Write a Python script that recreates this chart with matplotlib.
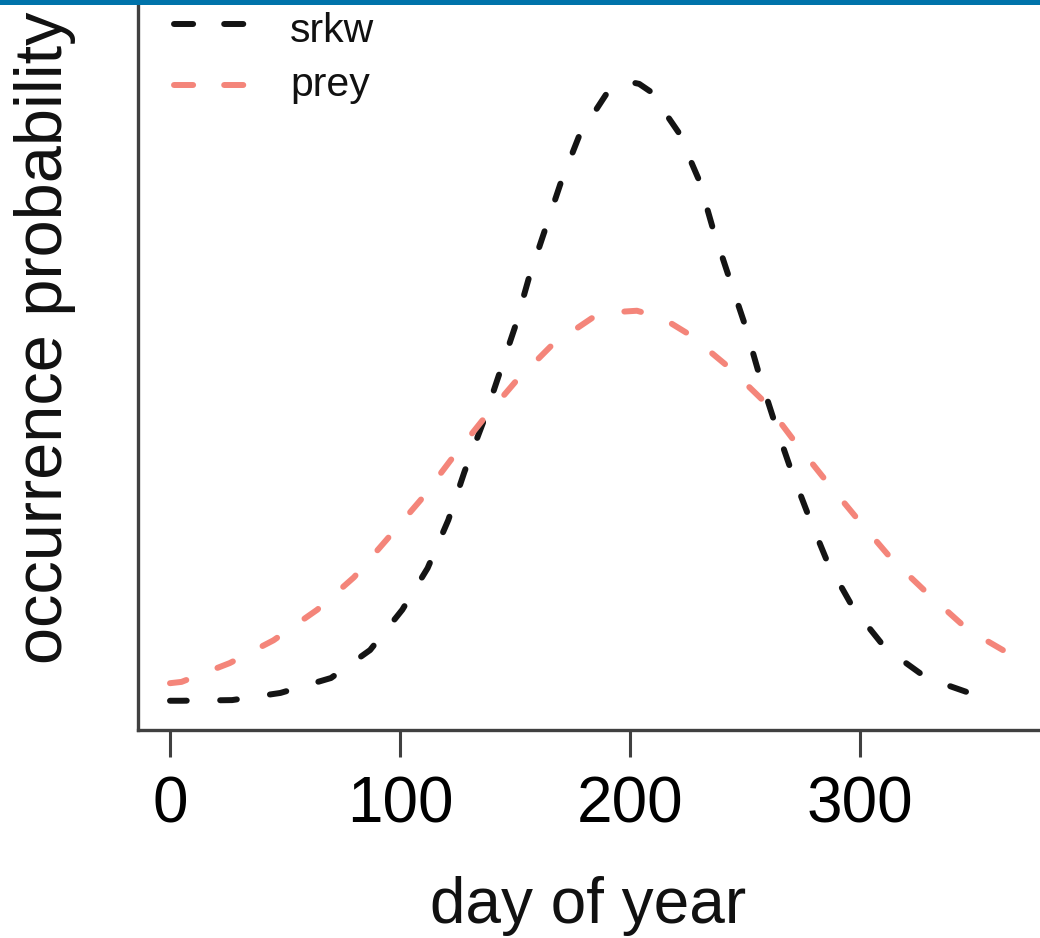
import matplotlib

matplotlib.use("Agg")
import matplotlib.pyplot as plt
from matplotlib.patches import Rectangle

plt.rcParams["font.family"] = ["Liberation Sans", "DejaVu Sans"]

# values; the original has no y ticks, so the
# probability scale is relative (peak of srkw ~ 1)
SRKW_DAY = [0, 5, 27, 48, 70, 87, 101, 112, 121, 128, 136, 143, 150, 156,
            163, 170, 178, 190, 195, 200, 204, 209, 221, 230, 236, 243, 250,
            256, 263, 270, 278, 286, 297, 311, 329, 350, 355]
SRKW_P = [0.045, 0.045, 0.046, 0.057, 0.080, 0.123, 0.185, 0.249, 0.323,
          0.397, 0.472, 0.546, 0.620, 0.695, 0.769, 0.843, 0.915, 0.980,
          0.992, 0.997, 0.994, 0.982, 0.920, 0.846, 0.772, 0.697, 0.623,
          0.549, 0.472, 0.400, 0.326, 0.257, 0.188, 0.126, 0.080, 0.054,
          0.051]
PREY_DAY = [0, 5, 26, 45, 64, 80, 94, 109, 122, 136, 150, 166, 184, 194,
            203, 214, 226, 243, 259, 272, 286, 300, 314, 330, 347, 366]
PREY_P = [0.072, 0.074, 0.103, 0.138, 0.185, 0.235, 0.292, 0.354, 0.415,
          0.477, 0.535, 0.592, 0.635, 0.643, 0.645, 0.634, 0.608, 0.558,
          0.503, 0.442, 0.380, 0.320, 0.262, 0.208, 0.154, 0.115]
SERIES = ["srkw", "prey"]
XTICKS = [0, 100, 200, 300]

COLORS = {"srkw": "#141414", "prey": "#f4857a"}
LW = 4.3
DASH = (2.8, 5.6)
FS = 46
AXIS = "#404040"

fig = plt.figure(figsize=(10.4, 9.38), dpi=100)
ax = fig.add_axes([138 / 1040, 208 / 938, 902 / 1040, 730 / 938])

data = {"srkw": (SRKW_DAY, SRKW_P), "prey": (PREY_DAY, PREY_P)}
for name in SERIES:
    days, p = data[name]
    ax.plot(days, p, color=COLORS[name], lw=LW, ls=(0, DASH),
            dash_capstyle="round")

ax.set_xlim(-32 / 2.3, 870 / 2.3)
ax.set_ylim(0, 730 / 650)
ax.set_xticks(XTICKS)
ax.set_xticklabels([str(t) for t in XTICKS], fontsize=FS)
ax.set_yticks([])
ax.tick_params(axis="x", direction="out", length=19.5, width=2.2,
               color=AXIS, pad=13)
for side in ("top", "right"):
    ax.spines[side].set_visible(False)
for side in ("left", "bottom"):
    ax.spines[side].set_linewidth(2.4)
    ax.spines[side].set_color(AXIS)

# legend, no box, drawn by hand to keep the R look
leg_y = [0.967, 0.884]
txt_y = [0.9425, 0.869]
for name, ly, ty in zip(SERIES, leg_y, txt_y):
    ax.plot([0.04, 0.118], [ly, ly], transform=ax.transAxes,
            color=COLORS[name], lw=LW, ls=(0, (3.2, 5.2)),
            dash_capstyle="round", clip_on=False)
    ax.text(0.1685, ty, name, transform=ax.transAxes, fontsize=29.5,
            va="baseline", ha="left", color="#111111")

fig.text(62 / 1040, (938 - 664) / 938, "occurrence probability",
         rotation=90, rotation_mode="anchor", ha="left", va="baseline",
         fontsize=48, color="#111111")
fig.text(588 / 1040, 15 / 938, "day of year", ha="center", va="baseline",
         fontsize=FS, color="#111111")

# the blue page rule cut into the top of the screenshot
fig.add_artist(Rectangle((0, 1 - 5 / 938), 1, 5 / 938,
                         transform=fig.transFigure, fc="#0073aa", ec="none"))

fig.savefig("out.png", dpi=100)
plt.close(fig)
